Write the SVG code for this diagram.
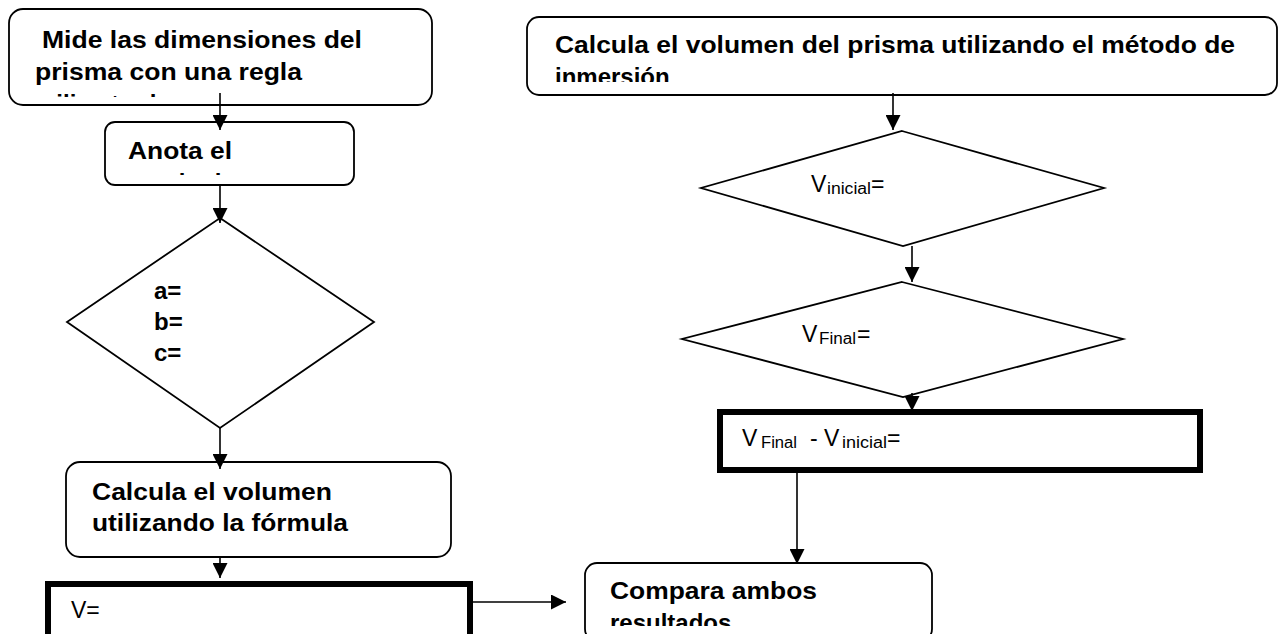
<svg xmlns="http://www.w3.org/2000/svg" width="1283" height="634" viewBox="0 0 1283 634">
<style>
.rbox{fill:#fff;stroke:#000;stroke-width:1.8}
.tbox{fill:#fff;stroke:#000;stroke-width:6}
.dia{fill:#fff;stroke:#000;stroke-width:1.8}
.b{font-family:"Liberation Sans",Arial,sans-serif;font-weight:bold;font-size:24px;fill:#000}
.r{font-family:"Liberation Sans",Arial,sans-serif;font-size:23px;fill:#000}
.s{font-family:"Liberation Sans",Arial,sans-serif;font-size:16px;fill:#000}
.c{stroke:#000;stroke-width:1.6;fill:none;marker-end:url(#ah)}
</style>
<defs>
<marker id="ah" markerUnits="userSpaceOnUse" markerWidth="15" markerHeight="15" refX="15" refY="7.5" orient="auto">
<path d="M0,0 L15,7.5 L0,15 z" fill="#000"/>
</marker>
<clipPath id="c1"><rect x="9" y="9" width="423" height="88"/></clipPath>
<clipPath id="c2"><rect x="105" y="122" width="249" height="53"/></clipPath>
<clipPath id="c3"><rect x="527" y="17" width="750" height="65"/></clipPath>
<clipPath id="c4"><rect x="585" y="563" width="347" height="63"/></clipPath>
</defs>

<g id="n-mide">
<rect class="rbox" x="9" y="9" width="423" height="96" rx="14"/>
<g clip-path="url(#c1)">
<text class="b" x="42" y="48" textLength="320" lengthAdjust="spacingAndGlyphs">Mide las dimensiones del</text>
<text class="b" x="35" y="80" textLength="267" lengthAdjust="spacingAndGlyphs">prisma con una regla</text>
<text class="b" x="35" y="112">milimetrada</text>
</g>
</g>

<g id="n-anota">
<rect class="rbox" x="105" y="122" width="249" height="63" rx="10"/>
<g clip-path="url(#c2)">
<text class="b" x="128" y="159" textLength="104" lengthAdjust="spacingAndGlyphs">Anota el</text>
<text class="b" x="128" y="191">resultado</text>
</g>
</g>

<g id="n-abc">
<polygon class="dia" points="220,218 374,322 220,428 67,322"/>
<text class="b" x="154" y="299">a=</text>
<text class="b" x="154" y="330">b=</text>
<text class="b" x="154" y="361">c=</text>
</g>

<g id="n-calcula">
<rect class="rbox" x="66" y="462" width="385" height="95" rx="14"/>
<text class="b" x="92" y="500" textLength="240" lengthAdjust="spacingAndGlyphs">Calcula el volumen</text>
<text class="b" x="92" y="531" textLength="256" lengthAdjust="spacingAndGlyphs">utilizando la fórmula</text>
</g>

<g id="n-v">
<rect class="tbox" x="48" y="584" width="422" height="70"/>
<text class="r" x="71" y="618">V=</text>
</g>

<g id="n-inmersion">
<rect class="rbox" x="527" y="17" width="750" height="78" rx="12"/>
<g clip-path="url(#c3)">
<text class="b" x="555" y="53" textLength="680" lengthAdjust="spacingAndGlyphs">Calcula el volumen del prisma utilizando el método de</text>
<text class="b" x="555" y="85">inmersión</text>
</g>
</g>

<g id="n-vinicial">
<polygon class="dia" points="902,131 1104,188 903,246 701,188"/>
<text class="r" x="811" y="192">V</text>
<text class="s" x="827" y="194" textLength="44" lengthAdjust="spacingAndGlyphs">inicial</text>
<text class="r" x="871" y="192">=</text>
</g>

<g id="n-vfinal">
<polygon class="dia" points="902,282 1123,339 903,397 682,339"/>
<text class="r" x="802" y="342">V</text>
<text class="s" x="819" y="344" textLength="37" lengthAdjust="spacingAndGlyphs">Final</text>
<text class="r" x="857" y="342">=</text>
</g>

<g id="n-diff">
<rect class="tbox" x="720" y="412" width="480" height="58"/>
<text class="r" x="742" y="446">V</text>
<text class="s" x="761" y="448" textLength="36" lengthAdjust="spacingAndGlyphs">Final</text>
<text class="r" x="810" y="446">-</text>
<text class="r" x="824" y="446">V</text>
<text class="s" x="842" y="448" textLength="45" lengthAdjust="spacingAndGlyphs">inicial</text>
<text class="r" x="887" y="446">=</text>
</g>

<g id="n-compara">
<rect class="rbox" x="585" y="563" width="347" height="78" rx="12"/>
<g clip-path="url(#c4)">
<text class="b" x="610" y="599" textLength="207" lengthAdjust="spacingAndGlyphs">Compara ambos</text>
<text class="b" x="610" y="631">resultados</text>
</g>
</g>

<g id="connectors">
<line class="c" x1="220" y1="93" x2="220" y2="130"/>
<line class="c" x1="220" y1="185" x2="220" y2="223"/>
<line class="c" x1="220" y1="428" x2="220" y2="469"/>
<line class="c" x1="220" y1="557" x2="220" y2="578"/>
<line class="c" x1="473" y1="602" x2="566" y2="602"/>
<line class="c" x1="893" y1="93" x2="893" y2="130"/>
<line class="c" x1="912" y1="246" x2="912" y2="282"/>
<line class="c" x1="912" y1="393" x2="912" y2="411"/>
<line class="c" x1="797" y1="473" x2="797" y2="564"/>
</g>
</svg>
